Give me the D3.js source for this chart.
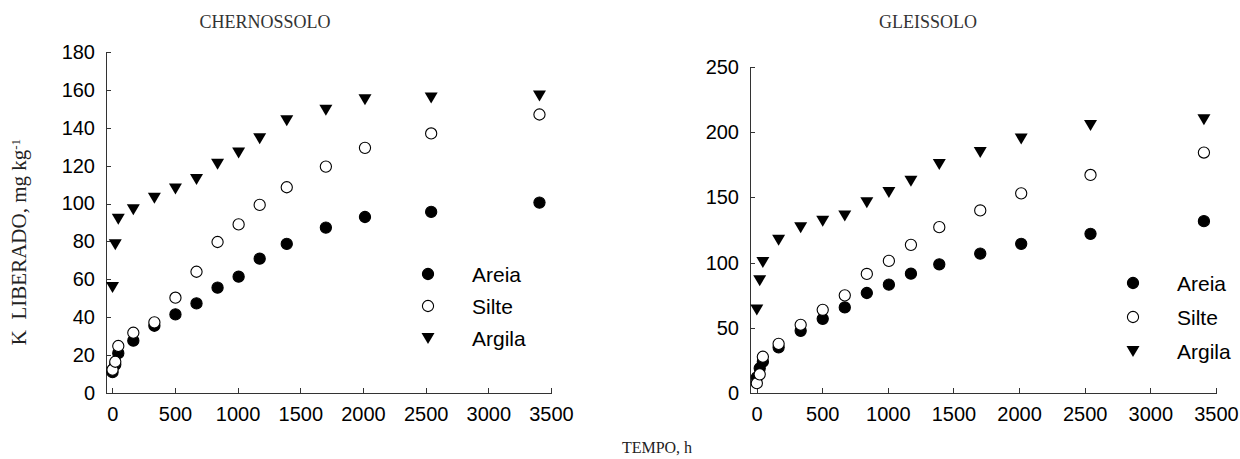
<!DOCTYPE html>
<html>
<head>
<meta charset="utf-8">
<script src="https://cdn.jsdelivr.net/npm/d3@7"></script>
<style>
  body { margin: 0; background: #fff; }
  svg { display: block; }
  .axis path, .axis line { stroke: #333; shape-rendering: crispEdges; }
  .axis text { font-family: "Liberation Sans", Arial, sans-serif; font-size: 20px; fill: #000; }
  .title { font-family: "Liberation Serif", "Times New Roman", serif; font-size: 18px; fill: #333; }
  .legend text { font-family: "Liberation Sans", Arial, sans-serif; font-size: 21px; fill: #000; }
</style>
</head>
<body>
<svg id="chart" width="1240" height="459"></svg>
<script>
// tempo de incubação (h)
const tempo = [2, 24, 48, 168, 336, 504, 672, 840, 1008, 1176, 1392, 1704, 2016, 2544, 3408];

// CHERNOSSOLO
const chAreia  = [11, 15, 21, 27.6, 35.5, 41.5, 47.3, 55.6, 61.4, 70.9, 78.7, 87.3, 92.9, 95.6, 100.5];
const chSilte  = [12.3, 16.5, 24.8, 31.8, 37.3, 50.3, 64, 79.7, 89, 99.3, 108.6, 119.5, 129.4, 137, 147];
const chArgila = [56, 78.5, 92, 97, 103, 108, 113, 121, 127, 134.5, 144, 149.5, 155, 156, 157];

// GLEISSOLO
const glAreia  = [12, 19, 24, 35, 47.7, 56.9, 65.6, 76.7, 83.1, 91.5, 98.7, 106.9, 114.4, 122.1, 131.8];
const glSilte  = [7.5, 14.3, 27.8, 37.7, 52.3, 63.8, 74.9, 91.3, 101.3, 113.6, 127.2, 140, 153.1, 167.2, 184.4];
const glArgila = [64, 86.5, 100.5, 117.5, 127.2, 132.1, 136.2, 146.2, 154.1, 162.8, 175.6, 184.8, 195.2, 205.6, 210];

const xTicks = [0, 500, 1000, 1500, 2000, 2500, 3000, 3500];
const chYTicks = [0, 20, 40, 60, 80, 100, 120, 140, 160, 180];
const glYTicks = [0, 50, 100, 150, 200, 250];
const seriesNames = ['Areia', 'Silte', 'Argila'];

const svg = d3.select('#chart');
const fmt = d3.format('d');

// triângulo invertido
const triDown = 'M-6.5,-5L6.5,-5L0,6Z';

function drawMarker(g, kind) {
    if (kind === 'Argila') {
        g.append('path').attr('d', triDown).attr('fill', '#000');
    } else {
        g.append('circle')
            .attr('r', 5.6)
            .attr('fill', kind === 'Areia' ? '#000' : '#fff')
            .attr('stroke', '#000')
            .attr('stroke-width', 1.1);
    }
}

function panel(opts) {
    const x = d3.scaleLinear().domain([-50, 3500]).range(opts.xRange);
    const y = d3.scaleLinear().domain([0, opts.yMax]).range([393, opts.yTop]);

    svg.append('g')
        .attr('class', 'axis')
        .attr('transform', `translate(0,${y(0)})`)
        .call(d3.axisBottom(x).tickValues(xTicks).tickFormat(fmt)
            .tickSize(-5).tickSizeOuter(0).tickPadding(14));

    svg.append('g')
        .attr('class', 'axis')
        .attr('transform', `translate(${x(-50)},0)`)
        .call(d3.axisLeft(y).tickValues(opts.yTicks).tickFormat(fmt)
            .tickSize(-5).tickSizeOuter(0).tickPadding(11));

    svg.append('text')
        .attr('class', 'title')
        .attr('x', opts.titleX)
        .attr('y', 28)
        .attr('text-anchor', 'middle')
        .text(opts.title);

    const series = [
        { name: 'Areia', values: opts.areia },
        { name: 'Silte', values: opts.silte },
        { name: 'Argila', values: opts.argila },
    ];

    // desenha Argila, Areia e depois Silte por cima
    [series[2], series[0], series[1]].forEach(s => {
        s.values.forEach((v, i) => {
            const g = svg.append('g').attr('transform', `translate(${x(tempo[i])},${y(v)})`);
            drawMarker(g, s.name);
        });
    });

    const legend = svg.append('g').attr('class', 'legend');
    seriesNames.forEach((name, i) => {
        const ly = opts.legendY + i * opts.legendStep;
        drawMarker(legend.append('g').attr('transform', `translate(${opts.legendX},${ly})`), name);
        legend.append('text')
            .attr('x', opts.legendX + 44)
            .attr('y', ly)
            .attr('dy', '0.36em')
            .text(name);
    });
}

panel({
    title: 'CHERNOSSOLO', titleX: 265,
    xRange: [106, 551], yMax: 180, yTop: 52, yTicks: chYTicks,
    areia: chAreia, silte: chSilte, argila: chArgila,
    legendX: 428, legendY: 274, legendStep: 32,
});

panel({
    title: 'GLEISSOLO', titleX: 928,
    xRange: [750, 1216], yMax: 250, yTop: 67, yTicks: glYTicks,
    areia: glAreia, silte: glSilte, argila: glArgila,
    legendX: 1133, legendY: 283, legendStep: 34,
});

// rótulo do eixo Y
svg.append('text')
    .attr('transform', 'translate(26,242) rotate(-90)')
    .attr('text-anchor', 'middle')
    .style('font-family', '"Liberation Serif", "Times New Roman", serif')
    .style('font-size', '21px')
    .style('white-space', 'pre')
    .style('fill', '#222')
    .call(t => {
        t.append('tspan').text('K  LIBERADO, mg kg');
        t.append('tspan').attr('dy', '-0.5em').style('font-size', '13px').text('-1');
    });

// rótulo do eixo X
svg.append('text')
    .attr('x', 657)
    .attr('y', 453)
    .attr('text-anchor', 'middle')
    .style('font-family', '"Liberation Serif", "Times New Roman", serif')
    .style('font-size', '16px')
    .style('fill', '#222')
    .text('TEMPO, h');
</script>
</body>
</html>
